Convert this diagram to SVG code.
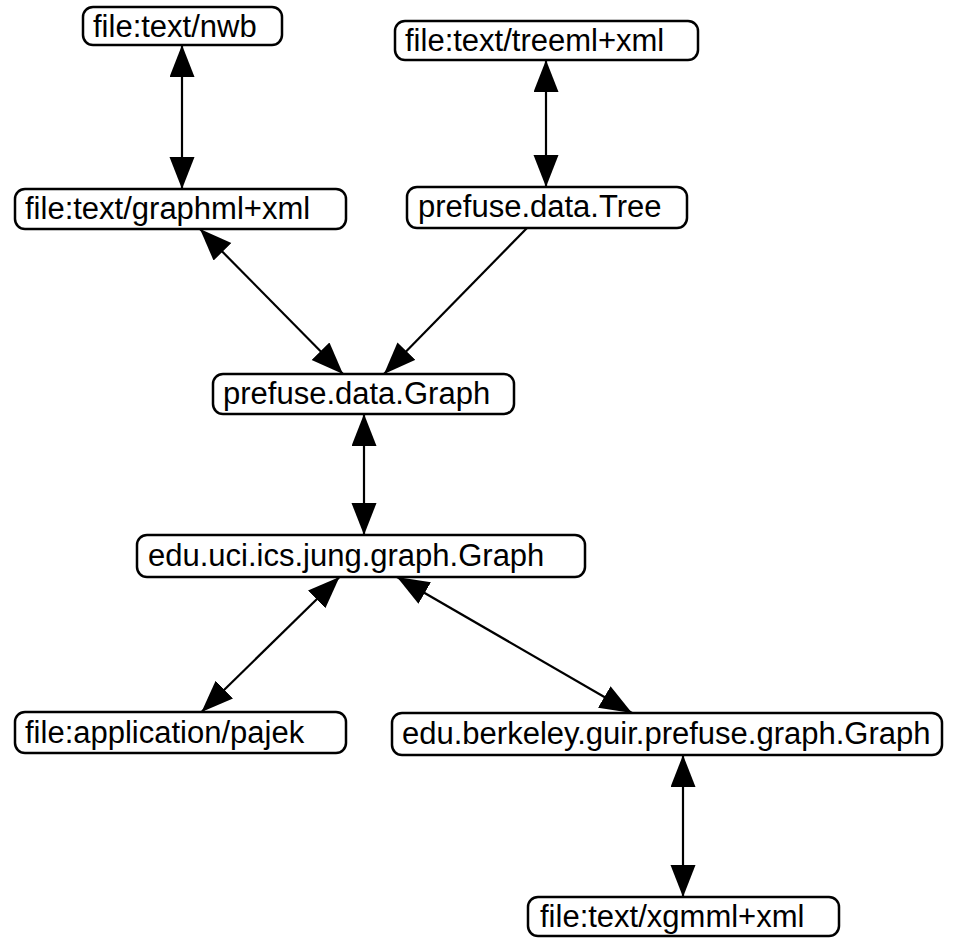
<svg xmlns="http://www.w3.org/2000/svg" width="958" height="938" viewBox="0 0 958 938">
<style>
.box{fill:#fff;stroke:#000;stroke-width:2.5}
.lbl{font-family:"Liberation Sans",Arial,sans-serif;font-size:31px;fill:#000}
.edge{stroke:#000;stroke-width:2.2;fill:none}
</style>
<defs>
<marker id="ah" markerUnits="userSpaceOnUse" markerWidth="34" markerHeight="26" refX="32" refY="12.5" orient="auto-start-reverse">
<path d="M0,0 L32,12.5 L0,25 z" fill="#000"/>
</marker>
</defs>
<rect width="958" height="938" fill="#fff"/>
<g id="connectors">
<line class="edge" x1="182" y1="45" x2="182" y2="189" marker-start="url(#ah)" marker-end="url(#ah)"/>
<line class="edge" x1="546" y1="60" x2="546" y2="187" marker-start="url(#ah)" marker-end="url(#ah)"/>
<line class="edge" x1="200" y1="229" x2="343" y2="374" marker-start="url(#ah)" marker-end="url(#ah)"/>
<line class="edge" x1="527" y1="228" x2="384" y2="374" marker-end="url(#ah)"/>
<line class="edge" x1="364" y1="414" x2="364" y2="535" marker-start="url(#ah)" marker-end="url(#ah)"/>
<line class="edge" x1="339.5" y1="577" x2="201.5" y2="712" marker-start="url(#ah)" marker-end="url(#ah)"/>
<line class="edge" x1="397" y1="577" x2="632" y2="713" marker-start="url(#ah)" marker-end="url(#ah)"/>
<line class="edge" x1="683" y1="755" x2="683" y2="897" marker-start="url(#ah)" marker-end="url(#ah)"/>
</g>
<g id="n_nwb"><rect class="box" x="83" y="7" width="199" height="38" rx="10"/><text class="lbl" x="93" y="37">file:text/nwb</text></g>
<g id="n_treeml"><rect class="box" x="395" y="21" width="303" height="39" rx="10"/><text class="lbl" x="405" y="51">file:text/treeml+xml</text></g>
<g id="n_graphml"><rect class="box" x="15" y="189" width="331" height="40" rx="10"/><text class="lbl" x="25" y="219">file:text/graphml+xml</text></g>
<g id="n_tree"><rect class="box" x="407" y="187" width="280" height="41" rx="10"/><text class="lbl" x="418" y="217">prefuse.data.Tree</text></g>
<g id="n_graph"><rect class="box" x="213" y="374" width="301" height="40" rx="10"/><text class="lbl" x="223" y="404">prefuse.data.Graph</text></g>
<g id="n_jung"><rect class="box" x="137" y="535" width="448" height="42" rx="10"/><text class="lbl" x="148" y="566">edu.uci.ics.jung.graph.Graph</text></g>
<g id="n_pajek"><rect class="box" x="15" y="712" width="331" height="41" rx="10"/><text class="lbl" x="25" y="743">file:application/pajek</text></g>
<g id="n_berkeley"><rect class="box" x="392" y="713" width="550" height="42" rx="10"/><text class="lbl" x="402" y="744">edu.berkeley.guir.prefuse.graph.Graph</text></g>
<g id="n_xgmml"><rect class="box" x="528" y="897" width="311" height="39" rx="10"/><text class="lbl" x="540" y="927">file:text/xgmml+xml</text></g>
</svg>
